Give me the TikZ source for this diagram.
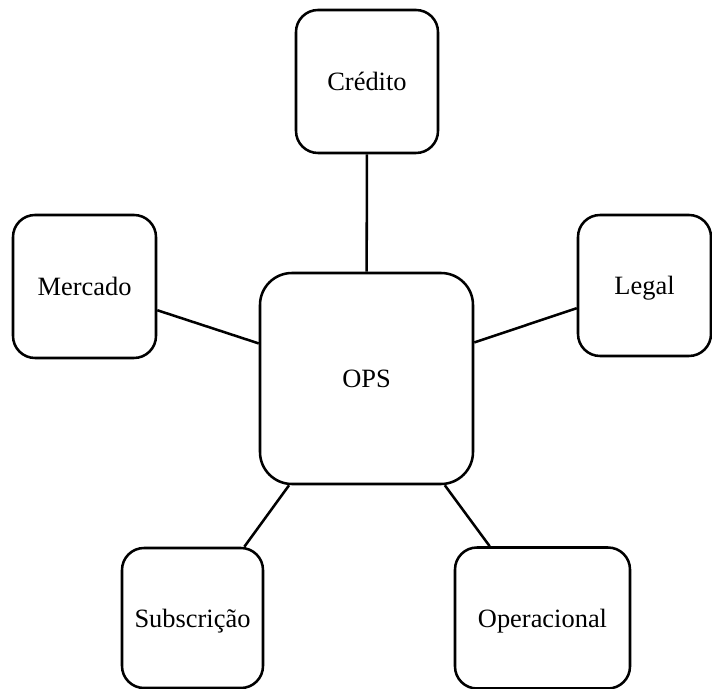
\documentclass[tikz,border=0pt]{standalone}
\usepackage{fontspec}
\setmainfont{Liberation Serif}

\begin{document}
	\begin{tikzpicture}[line width=1.8pt,
		risco/.style={draw, rounded corners=0.55cm, inner sep=0pt, text height=13pt, text depth=0pt, font=\fontsize{18.8}{22}\selectfont},
		nucleo/.style={risco, rounded corners=0.8cm, minimum width=5.325cm, minimum height=5.275cm}]
		\useasboundingbox (0,0) rectangle (17.8,17.225);
		% centro
		\node[nucleo] (ops) at (9.1625,7.7625) {OPS};
		% riscos
		\node[risco, minimum width=3.55cm, minimum height=3.575cm] (credito) at (9.175,15.1875) {Crédito};
		\node[risco, minimum width=3.575cm, minimum height=3.575cm] (mercado) at (2.1125,10.0625) {Mercado};
		\node[risco, minimum width=3.325cm, minimum height=3.525cm] (legal) at (16.1125,10.0875) {Legal};
		\node[risco, minimum width=3.525cm, minimum height=3.5cm] (subscricao) at (4.8125,1.775) {Subscrição};
		\node[risco, minimum width=4.375cm, minimum height=3.525cm] (operacional) at (13.5625,1.775) {Operacional};
		%
		\draw (credito) -- (ops);
		\draw (mercado) -- (ops);
		\draw (legal) -- (ops);
		\draw (subscricao) -- (ops);
		\draw (operacional) -- (ops);
	\end{tikzpicture}
\end{document}
